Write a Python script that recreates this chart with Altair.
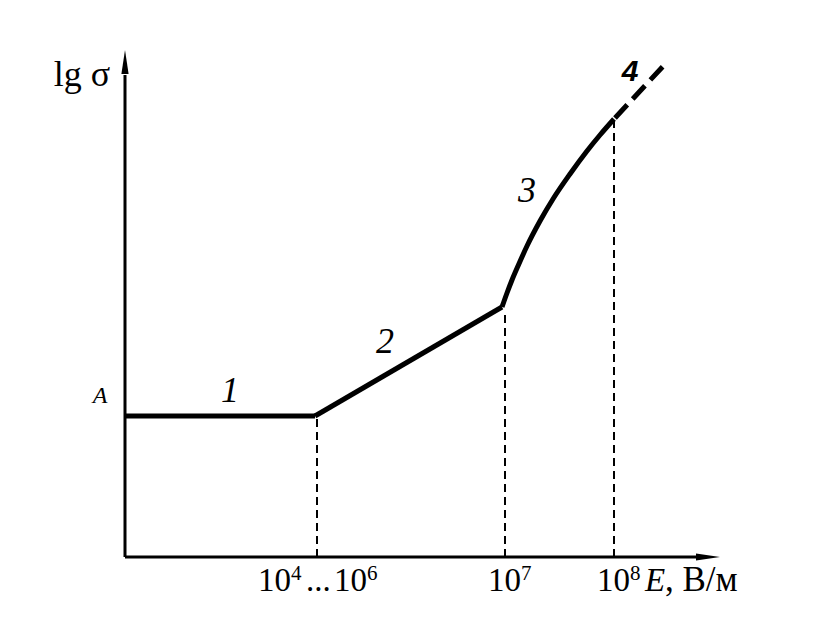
import altair as alt
import pandas as pd

# Schematic coordinates (arbitrary units, origin at the axes' corner)
seg1_x = [0, 190]
seg1_y = [141, 141]
seg2_x = [190, 377]
seg2_y = [141, 250]
seg3_x = [377, 382, 387, 393, 402, 415, 428, 445, 462, 475, 489]
seg3_y = [250, 264, 277, 291, 311, 336, 358, 383, 406, 422, 438]
seg4_x = [490, 542]
seg4_y = [439, 495]

drop_x = [192, 380, 489]
drop_top = [140, 247, 436]

seg_labels = ["1", "2", "3"]
seg_label_x = [105, 260, 402]
seg_label_y = [166, 215, 366]

XD = [-117, 707]
YD = [-66, 549]
W, H = 824, 615

xs = alt.Scale(domain=XD, nice=False, zero=False)
ys = alt.Scale(domain=YD, nice=False, zero=False)


def X(f="x"):
    return alt.X(f, type="quantitative", scale=xs, axis=None)


def Y(f="y"):
    return alt.Y(f, type="quantitative", scale=ys, axis=None)


def line_df(xv, yv):
    return pd.DataFrame({"x": xv, "y": yv, "o": list(range(len(xv)))})


straight = pd.concat([
    line_df(seg1_x, seg1_y).assign(s="a"),
    line_df(seg2_x, seg2_y).assign(s="b"),
])
straight_mark = alt.Chart(straight).mark_line(
    color="black", strokeWidth=5, strokeJoin="round"
).encode(x=X(), y=Y(), order="o:Q", detail="s:N")

curve_mark = alt.Chart(line_df(seg3_x, seg3_y)).mark_line(
    color="black", strokeWidth=5, strokeJoin="round", interpolate="monotone"
).encode(x=X(), y=Y(), order="o:Q")

dash4 = alt.Chart(line_df(seg4_x, seg4_y)).mark_line(
    color="black", strokeWidth=5, strokeDash=[18, 8]
).encode(x=X(), y=Y())

drops = alt.Chart(pd.DataFrame({"x": drop_x, "y": [0] * 3, "y2": drop_top})).mark_rule(
    color="black", strokeWidth=2, strokeDash=[8, 5]
).encode(x=X(), y=Y(), y2="y2:Q")

axes_df = pd.DataFrame({"x": [0, 0], "x2": [0, 580], "y": [0, 0], "y2": [482, 0]})
axes = alt.Chart(axes_df).mark_rule(color="black", strokeWidth=3).encode(
    x=X(), x2="x2:Q", y=Y(), y2="y2:Q"
)

arrow_up = alt.Chart(pd.DataFrame({"x": [0], "y": [495]})).mark_point(
    shape="M0,-1L0.3,1L-0.3,1Z", filled=True, fill="black", stroke="black",
    strokeWidth=0, size=576, opacity=1
).encode(x=X(), y=Y())
arrow_right = alt.Chart(pd.DataFrame({"x": [583], "y": [0]})).mark_point(
    shape="M1,0L-1,0.3L-1,-0.3Z", filled=True, fill="black", stroke="black",
    strokeWidth=0, size=576, opacity=1
).encode(x=X(), y=Y())

seg_text = alt.Chart(pd.DataFrame({"x": seg_label_x, "y": seg_label_y, "t": seg_labels})).mark_text(
    font="Liberation Serif", fontStyle="italic", fontSize=36, color="black", baseline="middle"
).encode(x=X(), y=Y(), text="t:N")

four = alt.Chart(pd.DataFrame({"x": [505], "y": [485], "t": ["4"]})).mark_text(
    font="Liberation Sans", fontStyle="italic", fontWeight="bold", fontSize=30,
    color="black", baseline="middle"
).encode(x=X(), y=Y(), text="t:N")

ylab = alt.Chart(pd.DataFrame({"x": [-43], "y": [482], "t": ["lg σ"]})).mark_text(
    font="Liberation Serif", fontSize=36, color="black", baseline="middle"
).encode(x=X(), y=Y(), text="t:N")

amark = alt.Chart(pd.DataFrame({"x": [-25], "y": [161], "t": ["A"]})).mark_text(
    font="Liberation Serif", fontStyle="italic", fontSize=24, color="black", baseline="middle"
).encode(x=X(), y=Y(), text="t:N")

# Tick labels built from pieces: (text, dx, fontSize, fontStyle, dy)
BASE_Y = -34
tick_defs = [
    (192, [("10", -59, 33, "normal", 0), ("4", -26, 21, "normal", -11),
           ("...", -11, 33, "normal", 0), ("10", 17, 33, "normal", 0),
           ("6", 50, 21, "normal", -11)]),
    (380, [("10", -17, 33, "normal", 0), ("7", 16, 21, "normal", -11)]),
    (489, [("10", -17, 33, "normal", 0), ("8", 16, 21, "normal", -11),
           ("E", 31, 33, "italic", 0), (", В/м", 51, 35, "normal", 0)]),
]
tick_layers = []
for ax, parts in tick_defs:
    for txt, dx, fs, style, dy in parts:
        tick_layers.append(
            alt.Chart(pd.DataFrame({"x": [ax], "y": [BASE_Y], "t": [txt]})).mark_text(
                font="Liberation Serif", fontSize=fs, fontStyle=style, color="black",
                align="left", baseline="alphabetic", dx=dx, dy=dy
            ).encode(x=X(), y=Y(), text="t:N")
        )

chart = alt.layer(
    drops, axes, arrow_up, arrow_right, straight_mark, curve_mark, dash4,
    seg_text, four, ylab, amark, *tick_layers
).properties(
    width=W, height=H, autosize=alt.AutoSizeParams(type="none"), padding=0,
    background="white"
).configure_view(stroke=None)

chart.save("out.html", embed_options={"renderer": "svg", "actions": False})
